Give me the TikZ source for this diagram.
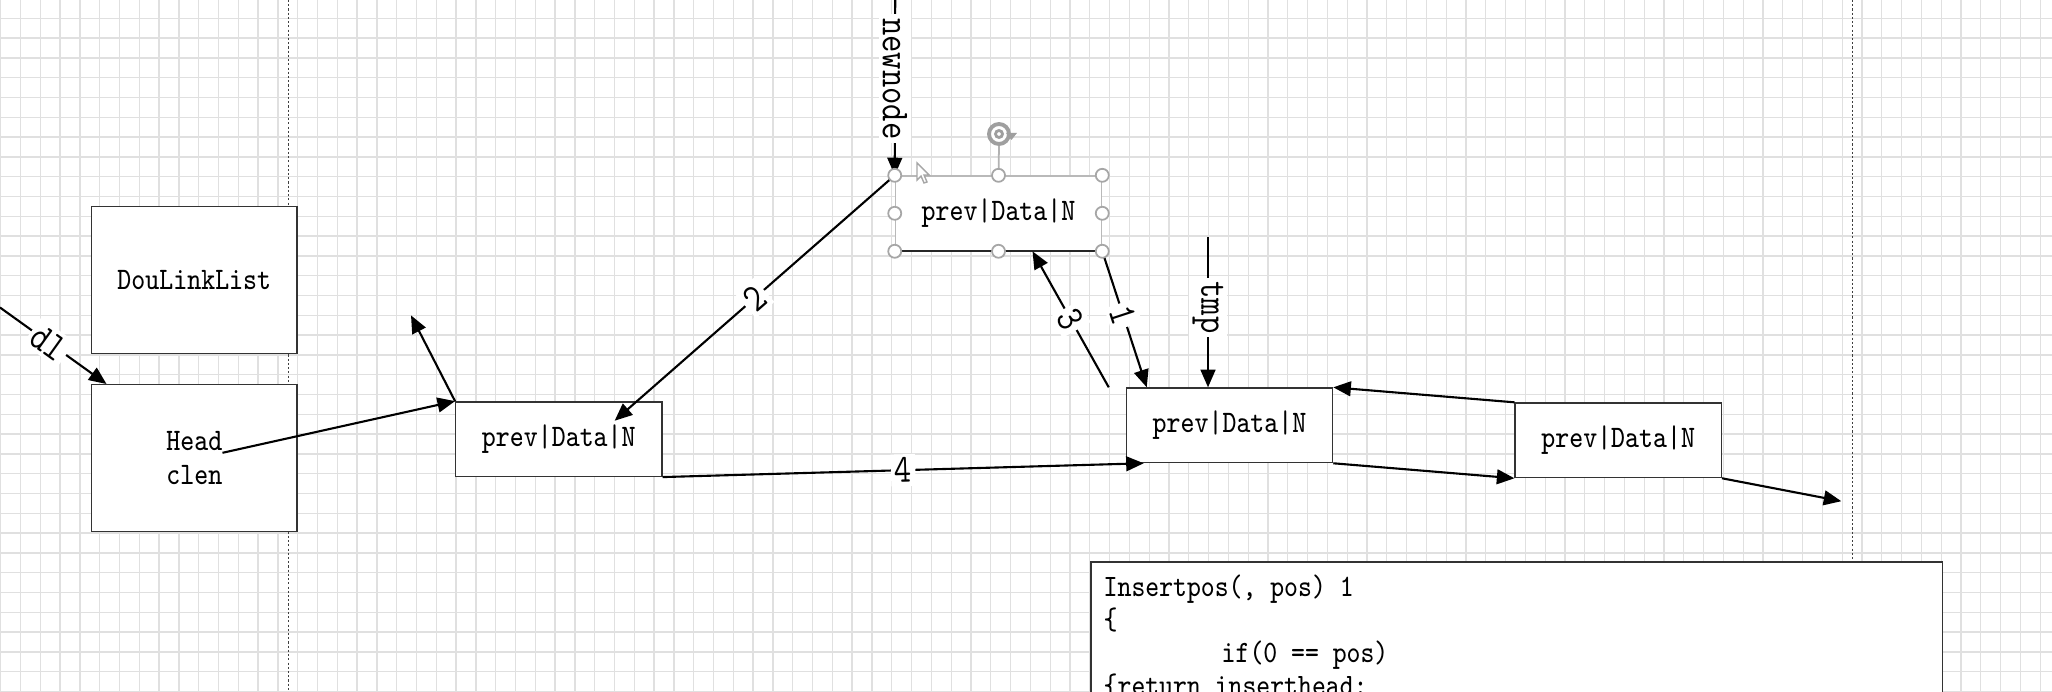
\documentclass[tikz,border=0pt]{standalone}
\usepackage{fontspec}
\newfontfamily\cnmono{Latin Modern Mono}[FakeStretch=0.85]
\usetikzlibrary{arrows.meta,calc}

\begin{document}
\begin{tikzpicture}[x=0.01cm, y=-0.01cm,
  box/.style={rectangle, draw=black!80, fill=white, line width=0.4pt,
              minimum width=2.06cm, minimum height=0.745cm, inner sep=0pt,
              font=\cnmono\fontsize{8.9}{9.7}\selectfont},
  bigbox/.style={box, minimum width=2.054cm, minimum height=1.465cm},
  lk/.style={-{Triangle[length=5pt, width=4.2pt]}, line width=0.6pt},
  lbl/.style={fill=white, inner sep=1pt, font=\cnmono\fontsize{11.3}{12}\selectfont},
  handle/.style={circle, draw=gray!70, fill=white, line width=0.5pt,
                 minimum size=0.13cm, inner sep=0pt},
  gridln/.style={black!12, line width=0.35pt},
  sepln/.style={black!75, line width=0.4pt, dash pattern=on 0.6pt off 0.6pt},
  codeln/.style={anchor=base west, inner sep=0pt, font=\cnmono\fontsize{8.85}{10}\selectfont}]

\useasboundingbox (0,0) rectangle (2052,691);
\clip (0,0) rectangle (2052,691);

%% background grid and the two dotted separators
\fill[white] (0,0) rectangle (2052,691);
\foreach \i in {0,...,104} \draw[gridln] ({0.7+19.8*\i},0) -- ({0.7+19.8*\i},691);
\foreach \j in {0,...,34} \draw[gridln] (0,{18.3+19.8*\j}) -- (2052,{18.3+19.8*\j});
\draw[sepln] (288.5,0) -- (288.5,691);
\draw[sepln] (1852.5,0) -- (1852.5,691);

%% list object and its nodes
\node[bigbox] (dll)  at (194.3,280) {DouLinkList};
\node[bigbox, align=center] (head) at (194.3,458) {Head\\clen};
\node[box] (a)  at (558.8,439.1)  {prev|Data|N};
\node[box, draw=gray!55] (nn) at (998.5,213.3) {prev|Data|N};
\draw[black!85, line width=0.5pt] (nn.south west) -- (nn.south east);
\node[box] (b)  at (1229.5,425.3) {prev|Data|N};
\node[box] (c)  at (1618.2,440.3) {prev|Data|N};

%% code box, cut by the lower border
\node[draw=black!80, fill=white, line width=0.5pt, inner sep=0pt, anchor=north west,
      minimum width=8.51cm, minimum height=1.6cm] (code) at (1090,561.4) {};
\node[codeln] (l1) at (1103,596) {Insertpos(, pos) 1};
\node[codeln] (l2) at (1103,629) {\{};
\node[codeln] (l3) at (1221,662) {if(0 == pos)};
\node[codeln] (l4) at (1103,695) {\{return inserthead;};

%% pointers
\coordinate (dlsrc)  at (0,307.5);
\coordinate (nnsrc)  at (895.2,0);
\coordinate (tmpsrc) at (1208,237);
\coordinate (hptr)   at (222.5,452.8);
\coordinate (aup)    at (411,315.4);
\coordinate (cout)   at (1841.3,501.2);

\draw[lk] (dlsrc) -- node[lbl, sloped, pos=0.46] (ldl) {dl} ($(head.north west)+(15.7,0)$);
\draw[lk] (nnsrc) -- node[lbl, rotate=-90, pos=0.45] (lnn) {newnode} (nn.north west);
\draw[lk] (tmpsrc) -- node[lbl, rotate=-90, pos=0.47] (ltmp) {tmp} (b.north -| tmpsrc);
\draw[lk] (hptr) -- (a.north west);
\draw[lk] (a.north west) -- (aup);
\draw[lk] (nn.north west) -- node[lbl, sloped] (l2lbl) {2} ($(a.north west)+(159.6,19.6)$);
\draw[lk] ($(b.north west)+(-17,0)$) -- node[lbl, sloped] (l3lbl) {3} ($(nn.south)+(34,0)$);
\draw[lk] (nn.south east) -- node[lbl, sloped, pos=0.47] (l1lbl) {1} ($(b.north west)+(21,0)$);
\draw[lk] (a.south east) -- node[lbl, sloped] (l4lbl) {4} ($(b.south west)+(18,0)$);
\draw[lk] (b.south east) -- (c.south west);
\draw[lk] (c.north west) -- (b.north east);
\draw[lk] (c.south east) -- (cout);

%% selection frame on newnode
\node[circle, draw=gray!75, fill=white, line width=1.1pt, minimum size=0.2cm, inner sep=0pt] (rot) at (999,134) {};
\node[circle, draw=gray!75, line width=0.8pt, minimum size=0.07cm, inner sep=0pt] (rotin) at (rot) {};
\fill[gray!75] ($(rot.east)+(-5,-1)$) -- ++(11,0) -- ++(-5.5,7) -- cycle;
\draw[gray!60, line width=0.5pt] (rot.south) -- (nn.north);
\foreach \a [count=\i] in {north west,north,north east,east,south east,south,south west,west}
  \node[handle] (h\i) at (nn.\a) {};
\draw[gray!70, fill=white, line width=0.4pt] (917,163) -- (917,180) -- (921,176) -- (924,183)
  -- (927,182) -- (924,175) -- (929,175) -- cycle;
\end{tikzpicture}
\end{document}
